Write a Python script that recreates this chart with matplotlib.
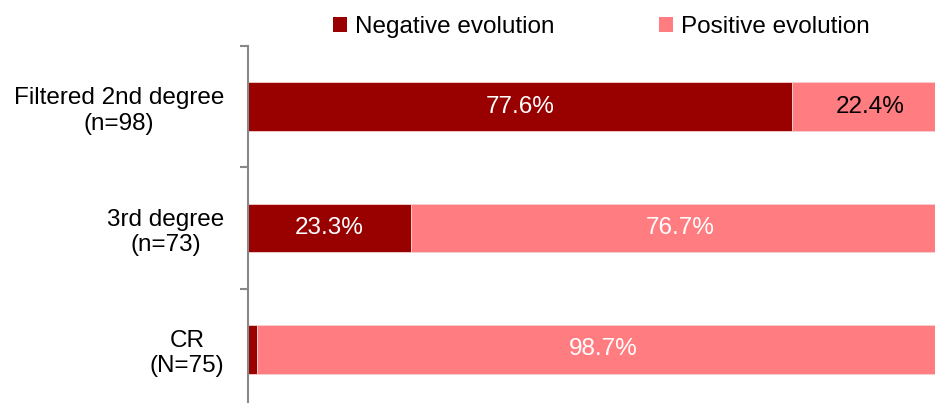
import numpy as np
import matplotlib.pyplot as plt
from matplotlib.patches import Patch

plt.rcParams['font.family'] = ['Liberation Sans', 'DejaVu Sans']

categories = ['Filtered 2nd degree\n(n=98)', '3rd degree\n(n=73)', 'CR\n(N=75)']
negative = [77.6, 23.3, 1.3]
positive = [22.4, 76.7, 98.7]
# which labels are drawn, and in what colour
neg_labels = ['77.6%', '23.3%', '']
pos_labels = ['22.4%', '76.7%', '98.7%']
pos_label_colors = ['black', 'white', 'white']

dark = '#990000'
light = '#FF7C80'
fs = 17.5

fig = plt.figure(figsize=(9.35, 4.03), dpi=100)
W, H = 935, 403
# plot area runs a little past the right and bottom edges of the picture
ax = fig.add_axes([248 / W, 1 - 410 / H, (949 - 248) / W, (410 - 46) / H])

y = np.arange(len(categories))
bh = 0.40
ax.barh(y, negative, height=bh, color=dark, edgecolor='#f4d0d0', linewidth=0.6)
ax.barh(y, positive, left=negative, height=bh, color=light, edgecolor='#f4d0d0', linewidth=0.6)

for i in range(len(categories)):
    if neg_labels[i]:
        ax.text(negative[i] / 2, y[i], neg_labels[i], ha='center', va='center',
                color='white', fontsize=fs)
    ax.text(negative[i] + positive[i] / 2, y[i], pos_labels[i], ha='center', va='center',
            color=pos_label_colors[i], fontsize=fs)

ax.set_xlim(0, 100)
ax.set_ylim(len(categories) - 0.5, -0.5)

ax.set_yticks(y)
ax.set_yticklabels(categories, fontsize=fs, ma='center')
ax.tick_params(axis='y', which='major', length=0, pad=17)
ax.set_yticks(np.arange(len(categories) + 1) - 0.5, minor=True)
ax.tick_params(axis='y', which='minor', length=6, width=1.5, color='#888888')
ax.set_xticks([])

for s in ['top', 'right', 'bottom']:
    ax.spines[s].set_visible(False)
ax.spines['left'].set_color('#888888')
ax.spines['left'].set_linewidth(1.5)

handles = [Patch(facecolor=dark), Patch(facecolor=light)]
fig.legend(handles, ['Negative evolution', 'Positive evolution'], loc='center',
           bbox_to_anchor=(601 / W, 1 - 27 / H), ncol=2, frameon=False,
           fontsize=fs, handlelength=0.6, handleheight=0.6, handletextpad=0.3,
           columnspacing=4.3)

fig.savefig('out.png', dpi=100)
